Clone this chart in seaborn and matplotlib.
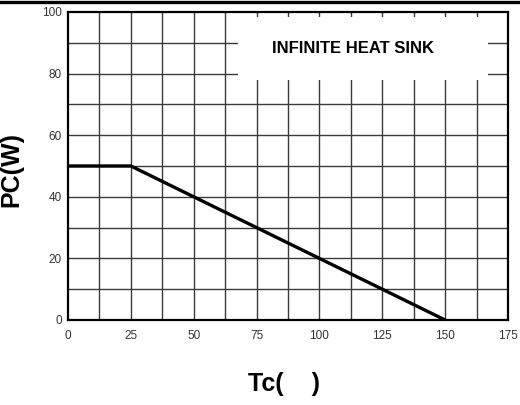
import numpy as np
import pandas as pd
import matplotlib
matplotlib.use('Agg')
import matplotlib.pyplot as plt
import seaborn as sns
from matplotlib.lines import Line2D
from matplotlib.patches import Rectangle

# derating curve data
tc = [0, 25, 150]
pc = [50, 50, 0]
x_ticks = [0, 25, 50, 75, 100, 125, 150, 175]
y_ticks = [0, 20, 40, 60, 80, 100]
note = 'INFINITE HEAT SINK'

sns.set_style('white')
plt.rcParams['font.family'] = ['Liberation Sans', 'DejaVu Sans']
plt.rcParams['axes.labelcolor'] = 'black'
plt.rcParams['text.color'] = 'black'

df = pd.DataFrame({'Tc': tc, 'PC': pc})

fig = plt.figure(figsize=(5.2, 4.05), dpi=100)
ax = fig.add_axes([68 / 520, 1 - 320 / 405, 440 / 520, 308 / 405])

# grid: every 12.5 on x, every 10 on y
for xv in np.arange(12.5, 175, 12.5):
    ax.axvline(xv, color='#3a3a3a', lw=1.0, zorder=1)
for yv in np.arange(10, 100, 10):
    ax.axhline(yv, color='#3a3a3a', lw=1.0, zorder=1)

# white label box hiding part of the grid
ax.add_patch(Rectangle((67.6, 78.0), 99.4, 20.4, facecolor='white',
                       edgecolor='none', zorder=2))
ax.text(113.4, 88.3, note, ha='center', va='center', fontsize=12,
        fontweight='bold', color='black', zorder=3)

sns.lineplot(data=df, x='Tc', y='PC', ax=ax, color='black', lw=2.4, zorder=4)

ax.set_xlim(0, 175)
ax.set_ylim(0, 100)
ax.set_xticks(x_ticks)
ax.set_yticks(y_ticks)
ax.tick_params(axis='both', length=0, labelsize=8.5, labelcolor='#333333')
ax.tick_params(axis='x', pad=7)
ax.tick_params(axis='y', pad=4.5)

for s in ax.spines.values():
    s.set_color('black')
    s.set_linewidth(1.6)
    s.set_zorder(5)

ax.set_xlabel('Tc(    )', fontsize=18, fontweight='bold', va='center')
ax.set_ylabel('PC(W)', fontsize=18, fontweight='bold', va='center')
ax.xaxis.set_label_coords(0.492, -0.208)
ax.yaxis.set_label_coords(-0.128, 0.49)

# heavy line along the top of the image
fig.add_artist(Line2D([0, 1], [1 - 1.5 / 405, 1 - 1.5 / 405],
                      transform=fig.transFigure, color='black', lw=2.4))

fig.savefig('out.png', dpi=100)
